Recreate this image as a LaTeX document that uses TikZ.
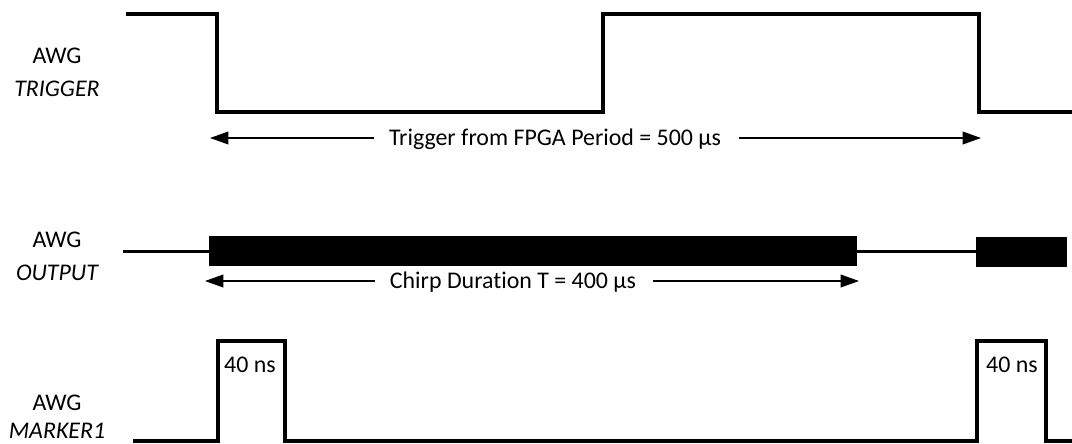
\documentclass[tikz,border=0pt]{standalone}
\usepackage{fontspec}
\setmainfont[Ligatures={NoCommon}]{Carlito}
\usetikzlibrary{arrows.meta}
\begin{document}
\begin{tikzpicture}[x=0.025cm,y=-0.025cm,
  lbl/.style={font=\fontsize{17}{20}\selectfont,inner sep=0pt,anchor=center},
  wave/.style={line width=2.6pt,line join=miter},
  mwave/.style={line width=2.2pt,line join=miter},
  base/.style={line width=1.5pt},
  arr/.style={line width=1pt,-{Triangle[length=13pt,width=9pt]}},
  burst/.style={fill=black,draw=none}]
\useasboundingbox (0,0) rectangle (1072,443);
% labels
\node[lbl] (l1a) at (57,56) {AWG};
\node[lbl] (l1b) at (57,89) {\itshape TRIGGER};
\node[lbl] (l2a) at (57,240) {AWG};
\node[lbl] (l2b) at (57,273) {\itshape OUTPUT};
\node[lbl] (l3a) at (57,403) {AWG};
\node[lbl] (l3b) at (57,431) {\itshape MARKER1};
% trigger waveform
\draw[wave] (126,14) -- (217,14) -- (217,112) -- (603,112) -- (603,14) -- (979,14) -- (979,112) -- (1072,112);
% trigger period arrow
\node[lbl] (tp) at (555,139) {Trigger from FPGA Period = 500 µs};
\coordinate (tpL) at (210,138);
\coordinate (tpR) at (981,138);
\draw[arr] ([xshift=-10.7pt]tp.west |- tpL) -- (tpL);
\draw[arr] ([xshift=12.8pt]tp.east |- tpR) -- (tpR);
% output
\draw[base] (123,251.5) -- (209,251.5);
\fill[burst] (209,236) rectangle (857,266);
\draw[base] (857,251.5) -- (976,251.5);
\fill[burst] (976,237) rectangle (1067,267);
% chirp arrow
\node[lbl] (cd) at (513,282) {Chirp Duration T = 400 µs};
\coordinate (cdL) at (205,281);
\coordinate (cdR) at (859,281);
\draw[arr] ([xshift=-10.7pt]cd.west |- cdL) -- (cdL);
\draw[arr] ([xshift=12pt]cd.east |- cdR) -- (cdR);
% marker
\draw[mwave] (133,441) -- (218,441) -- (218,341) -- (285,341) -- (285,441) -- (977,441) -- (977,341) -- (1046,341) -- (1046,441) -- (1072,441);
\node[lbl] (m1) at (250,365) {40 ns};
\node[lbl] (m2) at (1012,365) {40 ns};
\end{tikzpicture}
\end{document}
